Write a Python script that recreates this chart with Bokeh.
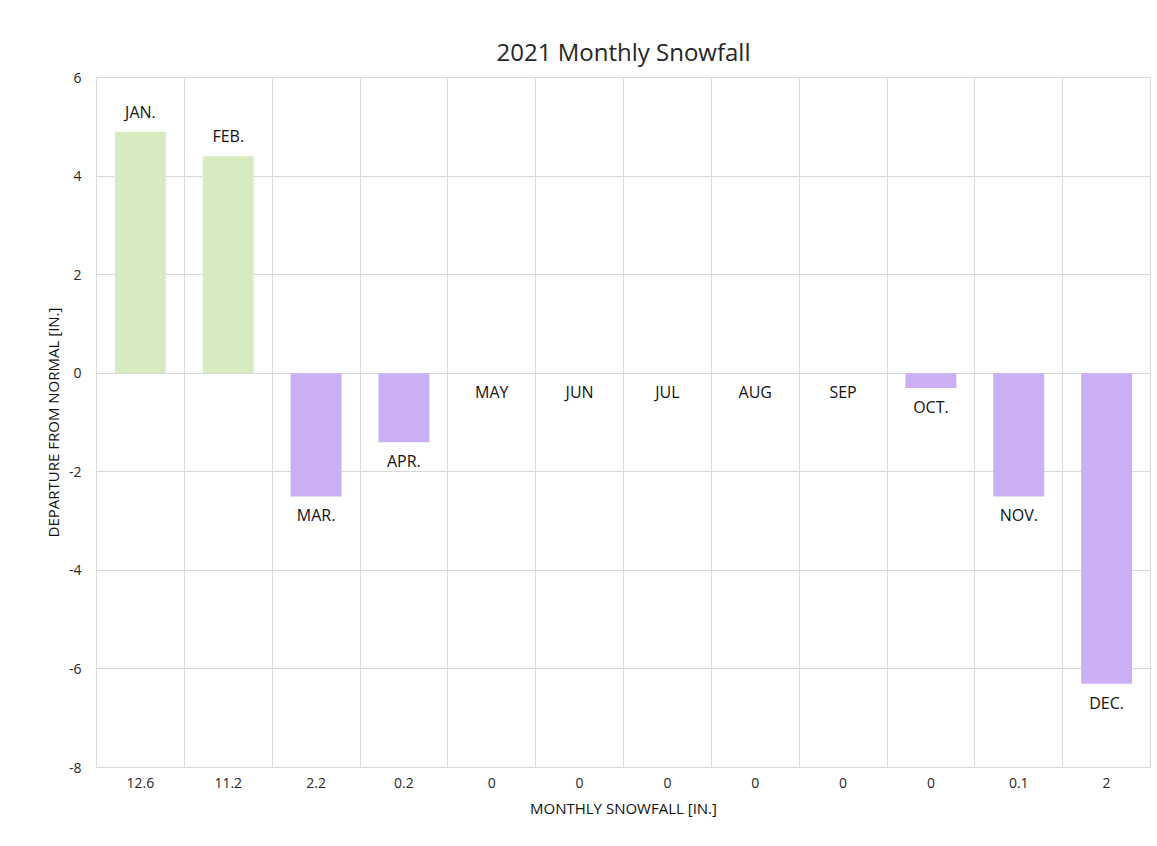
from bokeh.plotting import figure
from bokeh.models import Range1d, FixedTicker, ColumnDataSource, Title
from bokeh.core.properties import value
from bokeh.embed import file_html
from bokeh.resources import INLINE

# ---- data ----
months = ["JAN.", "FEB.", "MAR.", "APR.", "MAY", "JUN", "JUL", "AUG", "SEP", "OCT.", "NOV.", "DEC."]
departure = [4.9, 4.4, -2.5, -1.4, 0.0, 0.0, 0.0, 0.0, 0.0, -0.3, -2.5, -6.3]
snowfall = [12.6, 11.2, 2.2, 0.2, 0, 0, 0, 0, 0, 0, 0.1, 2]
y_ticks = [-8, -6, -4, -2, 0, 2, 4, 6]

FONT = "Open Sans"
GREEN = "#d6ecc0"
PURPLE = "#cbaff5"
GRID = "#d9d9d9"

xs = list(range(1, len(months) + 1))
colors = [GREEN if d > 0 else PURPLE for d in departure]

src = ColumnDataSource(dict(x=xs, dep=departure, color=colors, month=months))
pos_idx = [i for i, d in enumerate(departure) if d > 0]
neg_idx = [i for i, d in enumerate(departure) if d <= 0]
src_pos = ColumnDataSource(dict(x=[xs[i] for i in pos_idx], y=[departure[i] for i in pos_idx],
                                t=[months[i] for i in pos_idx]))
src_neg = ColumnDataSource(dict(x=[xs[i] for i in neg_idx], y=[departure[i] for i in neg_idx],
                                t=[months[i] for i in neg_idx]))

p = figure(width=1152, height=840,
           x_range=Range1d(0.5, 12.5), y_range=Range1d(-8, 6),
           output_backend="svg", toolbar_location=None,
           min_border_left=96, min_border_right=2, min_border_top=77, min_border_bottom=73,
           background_fill_color="white", border_fill_color="white")

title = Title(text="2021 Monthly Snowfall", align="center", text_font=FONT,
              text_font_size="24px", text_font_style="normal", text_color="#262626",
              standoff=20)
p.add_layout(title, "above")

p.vbar(x="x", top="dep", bottom=0, width=0.58, fill_color="color", line_color=None, source=src)

p.text(x="x", y="y", text="t", source=src_pos, text_align="center", text_baseline="bottom",
       y_offset=-9, text_font=value(FONT), text_font_size="16px", text_color="#111111")
p.text(x="x", y="y", text="t", source=src_neg, text_align="center", text_baseline="top",
       y_offset=8, text_font=value(FONT), text_font_size="16px", text_color="#111111")

# axes
p.yaxis.ticker = FixedTicker(ticks=y_ticks)
p.yaxis.major_label_overrides = {t: str(t) for t in y_ticks}
p.yaxis.axis_label = "DEPARTURE FROM NORMAL [IN.]"
p.xaxis.ticker = FixedTicker(ticks=xs)
p.xaxis.major_label_overrides = {x: f"{v:g}" for x, v in zip(xs, snowfall)}
p.xaxis.axis_label = "MONTHLY SNOWFALL [IN.]"

for ax in (p.xaxis[0], p.yaxis[0]):
    ax.axis_line_color = None
    ax.major_tick_line_color = None
    ax.minor_tick_line_color = None
    ax.major_tick_out = 0
    ax.minor_tick_out = 0
    ax.major_label_text_font = FONT
    ax.major_label_text_font_size = "14px"
    ax.major_label_text_color = "#262626"
    ax.axis_label_text_font = FONT
    ax.axis_label_text_font_size = "15px"
    ax.axis_label_text_font_style = "normal"
    ax.axis_label_text_color = "#111111"

p.yaxis.major_label_standoff = 15
p.yaxis.axis_label_standoff = 3
p.xaxis.major_label_standoff = 10
p.xaxis.axis_label_standoff = 7

# grids
p.ygrid.ticker = FixedTicker(ticks=y_ticks)
p.ygrid.grid_line_color = GRID
p.xgrid.ticker = FixedTicker(ticks=[x - 0.5 for x in xs] + [xs[-1] + 0.5])
p.xgrid.grid_line_color = GRID

p.outline_line_color = GRID

open("out.html", "w").write(file_html(p, INLINE))
